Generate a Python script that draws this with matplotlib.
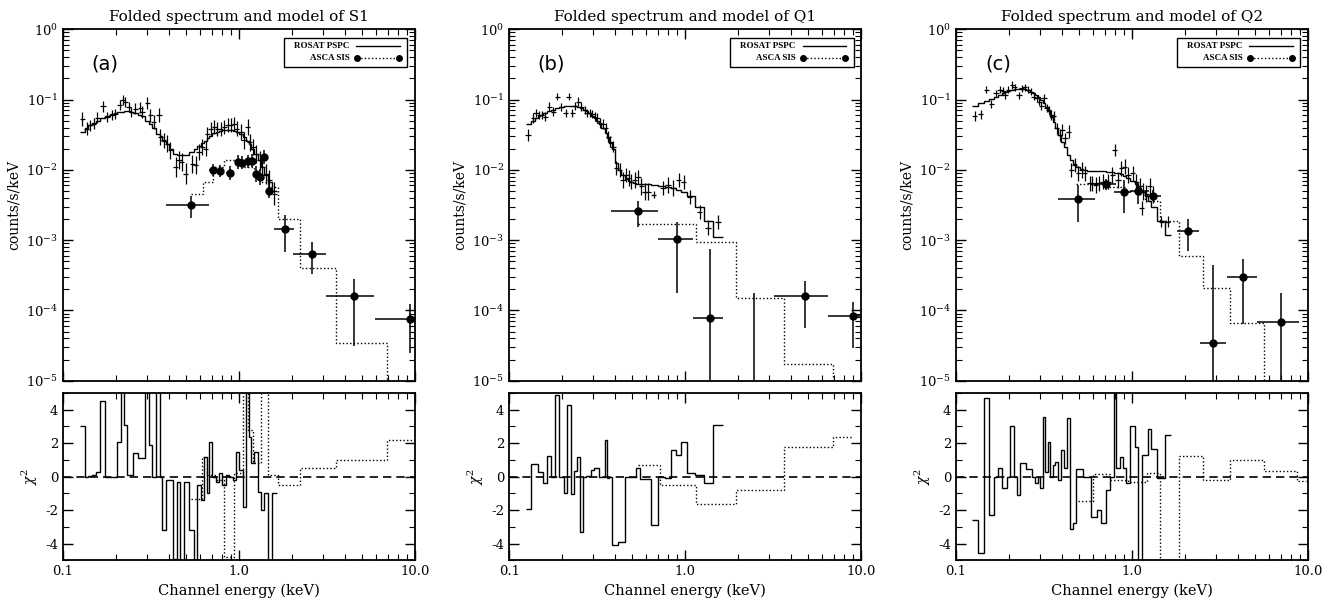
import numpy as np
import matplotlib
matplotlib.use('Agg')
import matplotlib.pyplot as plt
from matplotlib.patches import Rectangle
from matplotlib.ticker import LogLocator, FixedLocator, MultipleLocator, NullFormatter, FuncFormatter

plt.rcParams['font.family'] = 'DejaVu Serif'
plt.rcParams['mathtext.fontset'] = 'dejavuserif'
plt.rcParams['axes.unicode_minus'] = False

# ---------------- S1 (panel a) ----------------
S1_ROS_E = [0.129, 0.136, 0.143, 0.149, 0.157, 0.169, 0.178, 0.190, 0.198, 0.210,
            0.218, 0.226, 0.236, 0.244, 0.258, 0.275, 0.281, 0.301, 0.314, 0.328,
            0.351, 0.358, 0.374, 0.391, 0.408, 0.436, 0.456, 0.472, 0.497, 0.543,
            0.568, 0.593, 0.620, 0.648, 0.662, 0.692, 0.723, 0.755, 0.789, 0.824,
            0.861, 0.899, 0.940, 0.973, 1.03, 1.07, 1.12, 1.15, 1.20, 1.25,
            1.31, 1.36, 1.43, 1.49, 1.59]
S1_ROS_CTS = [0.0534, 0.0384, 0.0429, 0.0453, 0.0552, 0.080, 0.0564, 0.0596, 0.0629, 0.0826,
              0.0973, 0.0922, 0.0783, 0.0664, 0.0741, 0.0766, 0.0664, 0.0892, 0.0596, 0.0478,
              0.0596, 0.0292, 0.0262, 0.0235, 0.0189, 0.0109, 0.0139, 0.0129, 0.0088, 0.0122,
              0.0116, 0.0179, 0.0211, 0.0200, 0.0327, 0.0385, 0.0406, 0.0385, 0.0385, 0.0406,
              0.0429, 0.0429, 0.0453, 0.0385, 0.0345, 0.0262, 0.0406, 0.0248, 0.0211, 0.0169,
              0.0136, 0.0109, 0.0088, 0.0071, 0.0046]
S1_ROS_ERR = [0.10, 0.09, 0.08, 0.08, 0.08, 0.08, 0.07, 0.07, 0.07, 0.07,
              0.07, 0.07, 0.07, 0.07, 0.08, 0.08, 0.08, 0.08, 0.09, 0.10,
              0.10, 0.11, 0.11, 0.12, 0.12, 0.14, 0.13, 0.13, 0.15, 0.13,
              0.13, 0.12, 0.11, 0.11, 0.10, 0.10, 0.10, 0.10, 0.10, 0.10,
              0.10, 0.10, 0.10, 0.11, 0.11, 0.12, 0.12, 0.12, 0.12, 0.13,
              0.13, 0.14, 0.14, 0.15, 0.16]
S1_ROS_MODEL = [0.035, 0.040, 0.043, 0.046, 0.050, 0.055, 0.058, 0.062, 0.064, 0.066,
                0.067, 0.068, 0.068, 0.067, 0.065, 0.060, 0.058, 0.050, 0.045, 0.039,
                0.032, 0.030, 0.026, 0.023, 0.020, 0.017, 0.016, 0.016, 0.016, 0.018,
                0.020, 0.022, 0.024, 0.026, 0.028, 0.030, 0.033, 0.035, 0.036, 0.037,
                0.037, 0.037, 0.036, 0.035, 0.032, 0.029, 0.026, 0.023, 0.020, 0.017,
                0.014, 0.011, 0.0085, 0.0068, 0.0050]
S1_ROS_RES = [3.0, 0.0, 0.05, 0.1, 0.3, 4.5, 0.0, 0.0, 0.0, 2.1,
              5.5, 3.1, 0.1, 0.1, 1.4, 1.1, 1.1, 5.5, 1.9, 0.0,
              5.5, 0.0, -3.2, -0.2, -0.2, -4.9, -0.3, -5.5, -0.3, -3.2,
              -5.5, -0.5, -1.4, 1.2, -1.0, 2.1, 0.0, -0.3, 0.2, -0.5,
              0.1, 0.0, -0.2, 1.5, 0.4, -1.8, 5.5, 2.4, 0.8, 1.5,
              -0.9, -2.0, -1.0, -5.5, -1.0]
S1_ASCA_E = [0.532, 0.708, 0.782, 0.889, 0.983, 1.035, 1.13, 1.19, 1.25, 1.32, 1.38, 1.49, 1.82, 2.60, 4.52, 9.33]
S1_ASCA_ELO = [0.383, 0.672, 0.745, 0.845, 0.955, 1.01, 1.10, 1.16, 1.22, 1.28, 1.35, 1.42, 1.59, 2.04, 3.14, 5.93]
S1_ASCA_EHI = [0.676, 0.745, 0.824, 0.935, 1.01, 1.06, 1.16, 1.22, 1.28, 1.35, 1.42, 1.57, 2.05, 3.14, 5.89, 10.5]
S1_ASCA_CTS = [0.00321, 0.0100, 0.0096, 0.0091, 0.0129, 0.0126, 0.0132, 0.0134, 0.0088, 0.0079, 0.0152, 0.0050,
               0.00145, 0.00064, 0.000159, 7.6e-5]
S1_ASCA_LO = [0.00207, 0.0081, 0.0078, 0.0072, 0.0104, 0.0102, 0.0106, 0.0108, 0.0068, 0.0060, 0.0122, 0.0040,
              0.00067, 0.00033, 3.16e-5, 2.5e-5]
S1_ASCA_HI = [0.0043, 0.0123, 0.0118, 0.0114, 0.016, 0.0156, 0.0164, 0.0166, 0.0114, 0.0104, 0.019, 0.0063,
              0.00224, 0.00093, 0.00028, 1.23e-4]
S1_ASCA_MOD_EDGES = [0.532, 0.621, 0.708, 0.824, 0.940, 1.07, 1.22, 1.34, 1.46, 1.66, 2.21, 3.58, 6.92, 10.0]
S1_ASCA_MOD = [0.0045, 0.0067, 0.0109, 0.0139, 0.0139, 0.011, 0.0088, 0.0067, 0.0057, 0.00197, 0.00040, 3.4e-5, 5e-6]
S1_ASCA_RES_EDGES = [0.532, 0.620, 0.662, 0.739, 0.824, 0.940, 1.05, 1.12, 1.20, 1.34, 1.46, 1.66, 2.21, 3.58, 6.92, 10.0]
S1_ASCA_RES = [-1.3, 1.2, 0.1, -0.2, -4.8, 0.2, 5.5, 2.8, 0.8, 5.5, 0.1, -0.5, 0.5, 1.0, 2.2]

# ---------------- Q1 (panel b) ----------------
Q1_ROS_E = [0.128, 0.137, 0.142, 0.148, 0.153, 0.160, 0.169, 0.178, 0.188, 0.198,
            0.209, 0.218, 0.228, 0.236, 0.247, 0.257, 0.269, 0.277, 0.287, 0.297,
            0.306, 0.317, 0.327, 0.342, 0.354, 0.365, 0.376, 0.389, 0.407, 0.425,
            0.444, 0.464, 0.478, 0.494, 0.516, 0.540, 0.564, 0.589, 0.615,
            0.662, 0.748, 0.799, 0.853, 0.918, 0.980, 1.06, 1.21, 1.35, 1.54]
Q1_ROS_CTS = [0.0314, 0.0542, 0.0638, 0.0604, 0.0604, 0.0572, 0.0794, 0.0674, 0.110, 0.0777,
              0.0638, 0.110, 0.0638, 0.0811, 0.0935, 0.0794, 0.0711, 0.0638, 0.0638, 0.0624,
              0.0572, 0.0542, 0.0459, 0.0449, 0.0390, 0.0297, 0.0252, 0.0214, 0.0105, 0.0100,
              0.0072, 0.0085, 0.0076, 0.0068, 0.0072, 0.0080, 0.0058, 0.0049, 0.0049,
              0.0044, 0.0055, 0.0061, 0.0055, 0.0072, 0.0067, 0.0041, 0.0025, 0.0015, 0.0018]
Q1_ROS_ERR = [0.09, 0.07, 0.06, 0.06, 0.06, 0.06, 0.06, 0.06, 0.05, 0.06,
              0.06, 0.05, 0.06, 0.06, 0.06, 0.06, 0.06, 0.06, 0.06, 0.06,
              0.06, 0.07, 0.07, 0.07, 0.07, 0.08, 0.08, 0.08, 0.10, 0.10,
              0.11, 0.10, 0.11, 0.11, 0.11, 0.10, 0.12, 0.12, 0.12,
              0.05, 0.10, 0.11, 0.11, 0.10, 0.10, 0.10, 0.10, 0.11, 0.10]
Q1_ROS_MODEL = [0.045, 0.050, 0.054, 0.058, 0.061, 0.064, 0.068, 0.072, 0.076, 0.079,
                0.081, 0.082, 0.082, 0.081, 0.079, 0.076, 0.072, 0.068, 0.064, 0.059,
                0.055, 0.050, 0.045, 0.039, 0.033, 0.028, 0.024, 0.020, 0.0125, 0.0100,
                0.0085, 0.0075, 0.0070, 0.0067, 0.0064, 0.0063, 0.0062, 0.0062, 0.0062,
                0.0061, 0.0059, 0.0057, 0.0055, 0.0052, 0.0048, 0.0042, 0.0030, 0.0019, 0.0011]
Q1_ROS_RES = [-1.95, 0.75, 0.75, 0.3, 0.3, -0.35, 1.25, 0.0, 4.9, 0.0,
              -0.95, 4.3, -1.05, 0.35, 1.2, -3.3, 0.0, 0.05, 0.05, 0.4,
              0.5, 0.5, 0.0, 0.0, 2.2, -0.05, 0.0, -4.05, -4.05, -3.9,
              -3.9, 0.0, 0.0, 0.0, 0.0, 0.55, -0.15, -0.15, -0.15,
              -2.9, 0.0, -0.1, 1.6, 1.3, 2.05, 0.25, 0.1, -0.35, 3.1]
Q1_ASCA_E = [0.540, 0.903, 1.38, 2.45, 4.83, 8.96]
Q1_ASCA_ELO = [0.381, 0.701, 1.107, 2.45, 3.22, 6.47]
Q1_ASCA_EHI = [0.701, 1.107, 1.65, 2.45, 6.47, 10.5]
Q1_ASCA_CTS = [0.0026, 0.00103, 7.7e-5, 5e-6, 1.6e-4, 8.2e-5]
Q1_ASCA_LO = [0.00152, 0.000176, 1e-6, 1e-6, 5.6e-5, 2.9e-5]
Q1_ASCA_HI = [0.00365, 0.00183, 0.00074, 0.000176, 2.65e-4, 1.33e-4]
Q1_ASCA_MOD_EDGES = [0.540, 1.147, 1.94, 3.67, 6.90, 10.0]
Q1_ASCA_MOD = [0.0017, 0.00093, 0.000149, 1.73e-5, 5e-6]
Q1_ASCA_RES_EDGES = [0.540, 0.716, 1.147, 1.94, 3.67, 6.90, 9.0]
Q1_ASCA_RES = [0.7, -0.5, -1.6, -0.8, 1.8, 2.35]

# ---------------- Q2 (panel c) ----------------
Q2_ROS_E = [0.128, 0.138, 0.149, 0.159, 0.169, 0.178, 0.186, 0.190, 0.198, 0.209,
            0.216, 0.228, 0.236, 0.246, 0.257, 0.267, 0.277, 0.287, 0.297, 0.306,
            0.317, 0.327, 0.337, 0.349, 0.360, 0.373, 0.389, 0.403, 0.416, 0.438,
            0.453, 0.473, 0.495, 0.517, 0.540, 0.576, 0.597, 0.623, 0.651, 0.686,
            0.732, 0.775, 0.799, 0.834, 0.871, 0.910, 0.951, 1.01, 1.06, 1.11,
            1.135, 1.16, 1.21, 1.26, 1.32, 1.47, 1.60]
Q2_ROS_CTS = [0.0585, 0.0617, 0.137, 0.0866, 0.123, 0.137, 0.134, 0.116, 0.137, 0.161,
              0.150, 0.116, 0.145, 0.150, 0.137, 0.130, 0.110, 0.104, 0.0935, 0.0811,
              0.104, 0.0752, 0.0711, 0.0604, 0.0585, 0.0390, 0.0314, 0.0370, 0.0281, 0.0350,
              0.0100, 0.0117, 0.0089, 0.0100, 0.0089, 0.0064, 0.0064, 0.0061, 0.0064, 0.0068,
              0.0068, 0.0085, 0.0192, 0.0072, 0.0105, 0.0111, 0.0085, 0.0089, 0.0068, 0.0058,
              0.0029, 0.0049, 0.0046, 0.0058, 0.0044, 0.00183, 0.00183]
Q2_ROS_ERR = [0.07, 0.06, 0.05, 0.06, 0.05, 0.05, 0.05, 0.05, 0.05, 0.05,
              0.05, 0.05, 0.05, 0.05, 0.05, 0.05, 0.05, 0.05, 0.05, 0.06,
              0.06, 0.06, 0.06, 0.07, 0.07, 0.08, 0.08, 0.08, 0.08, 0.09,
              0.10, 0.10, 0.11, 0.11, 0.11, 0.11, 0.11, 0.11, 0.11, 0.11,
              0.11, 0.11, 0.08, 0.11, 0.11, 0.11, 0.11, 0.11, 0.11, 0.12,
              0.10, 0.12, 0.12, 0.12, 0.12, 0.08, 0.08]
Q2_ROS_MODEL = [0.080, 0.088, 0.095, 0.102, 0.110, 0.117, 0.123, 0.127, 0.132, 0.137,
                0.139, 0.140, 0.140, 0.139, 0.135, 0.130, 0.124, 0.116, 0.107, 0.098,
                0.088, 0.078, 0.068, 0.057, 0.048, 0.039, 0.031, 0.025, 0.021, 0.0165,
                0.0140, 0.0120, 0.0108, 0.0102, 0.0099, 0.0097, 0.0096, 0.0096, 0.0095, 0.0095,
                0.0094, 0.0092, 0.0091, 0.0089, 0.0086, 0.0082, 0.0077, 0.0070, 0.0063, 0.0056,
                0.0052, 0.0048, 0.0042, 0.0036, 0.0030, 0.0019, 0.0012]
Q2_ROS_RES = [-2.6, -4.55, 4.7, -2.3, 0.0, 0.5, -0.7, -0.7, 0.0, 3.0,
              0.0, -1.1, 0.8, 0.8, 0.45, 0.45, 0.0, -0.4, 0.0, -0.65,
              3.55, 0.3, 2.1, 0.0, 0.7, 0.9, -0.2, 1.6, 0.5, 3.5,
              -3.1, -2.75, 0.45, 0.45, 0.0, 0.0, -2.4, -2.4, -2.0, -2.75,
              -0.8, 0.0, 5.5, 0.5, 1.2, 0.5, -0.4, 3.05, 1.75, -5.5,
              -5.5, 1.3, 1.3, 2.85, 1.65, -0.05, 2.5]
Q2_ASCA_E = [0.494, 0.716, 0.901, 1.09, 1.32, 2.08, 2.91, 4.28, 7.05]
Q2_ASCA_ELO = [0.381, 0.601, 0.795, 0.97, 1.22, 1.80, 2.43, 3.47, 5.13]
Q2_ASCA_EHI = [0.615, 0.816, 0.992, 1.25, 1.47, 2.41, 3.44, 5.13, 8.96]
Q2_ASCA_CTS = [0.00386, 0.0062, 0.0048, 0.0050, 0.0043, 0.00135, 3.4e-5, 0.000296, 6.9e-5]
Q2_ASCA_LO = [0.00183, 0.0052, 0.0024, 0.0033, 0.0036, 0.00069, 1e-6, 6.4e-5, 1e-6]
Q2_ASCA_HI = [0.0061, 0.0074, 0.0072, 0.0068, 0.0052, 0.0020, 0.00044, 0.000535, 0.000176]
Q2_ASCA_MOD_EDGES = [0.484, 0.702, 0.931, 1.18, 1.44, 1.85, 2.54, 3.62, 5.67, 10.0]
Q2_ASCA_MOD = [0.0062, 0.0057, 0.0050, 0.0036, 0.00188, 0.00060, 0.000205, 6.6e-5, 5e-6]
Q2_ASCA_RES_EDGES = [0.494, 0.601, 0.748, 0.951, 1.22, 1.45, 1.85, 2.53, 3.62, 5.67, 8.65, 9.77]
Q2_ASCA_RES = [-1.45, 0.15, -0.2, -0.3, 0.2, -5.5, 1.25, -0.2, 1.0, 0.35, -0.25]

TITLES = ['Folded spectrum and model of S1', 'Folded spectrum and model of Q1',
          'Folded spectrum and model of Q2']
LETTERS = ['(a)', '(b)', '(c)']

ROS_XERR_DEX = 0.015
DOTTED = (0, (1, 1.6))

panels = [
    dict(e=S1_ROS_E, c=S1_ROS_CTS, d=S1_ROS_ERR, m=S1_ROS_MODEL, r=S1_ROS_RES,
         ae=S1_ASCA_E, aelo=S1_ASCA_ELO, aehi=S1_ASCA_EHI, ac=S1_ASCA_CTS, alo=S1_ASCA_LO, ahi=S1_ASCA_HI,
         me=S1_ASCA_MOD_EDGES, mv=S1_ASCA_MOD, re=S1_ASCA_RES_EDGES, rv=S1_ASCA_RES),
    dict(e=Q1_ROS_E, c=Q1_ROS_CTS, d=Q1_ROS_ERR, m=Q1_ROS_MODEL, r=Q1_ROS_RES,
         ae=Q1_ASCA_E, aelo=Q1_ASCA_ELO, aehi=Q1_ASCA_EHI, ac=Q1_ASCA_CTS, alo=Q1_ASCA_LO, ahi=Q1_ASCA_HI,
         me=Q1_ASCA_MOD_EDGES, mv=Q1_ASCA_MOD, re=Q1_ASCA_RES_EDGES, rv=Q1_ASCA_RES),
    dict(e=Q2_ROS_E, c=Q2_ROS_CTS, d=Q2_ROS_ERR, m=Q2_ROS_MODEL, r=Q2_ROS_RES,
         ae=Q2_ASCA_E, aelo=Q2_ASCA_ELO, aehi=Q2_ASCA_EHI, ac=Q2_ASCA_CTS, alo=Q2_ASCA_LO, ahi=Q2_ASCA_HI,
         me=Q2_ASCA_MOD_EDGES, mv=Q2_ASCA_MOD, re=Q2_ASCA_RES_EDGES, rv=Q2_ASCA_RES),
]


def geo_edges(c):
    # bin edges half way (in log) between channel centres
    c = np.asarray(c, dtype=float)
    mid = np.sqrt(c[:-1] * c[1:])
    return np.concatenate([[c[0] ** 2 / mid[0]], mid, [c[-1] ** 2 / mid[-1]]])


def style_axis(a):
    a.set_xscale('log')
    a.set_xlim(0.1, 10)
    a.xaxis.set_minor_locator(LogLocator(base=10, subs=np.arange(2, 10), numticks=20))
    a.xaxis.set_minor_formatter(NullFormatter())
    a.tick_params(which='both', direction='in', top=True, right=True, labelsize=9.5)
    a.tick_params(which='major', length=7, width=1)
    a.tick_params(which='minor', length=4, width=0.8)
    for s in a.spines.values():
        s.set_linewidth(1.3)


def draw_key(ax):
    ax.add_patch(Rectangle((0.627, 0.893), 0.352, 0.082, transform=ax.transAxes,
                           fill=False, lw=1, color='k', zorder=5))
    kw = dict(transform=ax.transAxes, ha='right', va='center', fontsize=6.5,
              family='Liberation Serif', fontweight='bold')
    ax.text(0.814, 0.951, 'ROSAT PSPC', **kw)
    ax.text(0.814, 0.919, 'ASCA SIS', **kw)
    ax.plot([0.834, 0.957], [0.951, 0.951], transform=ax.transAxes, color='k', lw=1)
    ax.plot([0.836, 0.955], [0.919, 0.919], transform=ax.transAxes, color='k', lw=1,
            ls=DOTTED, marker='o', ms=4)


fig = plt.figure(figsize=(13.3, 6.01), dpi=100)
lefts = [0.0474, 0.3829, 0.7188]
width = 0.2645

for i, p in enumerate(panels):
    ax = fig.add_axes([lefts[i], 0.3666, width, 0.5847])
    axr = fig.add_axes([lefts[i], 0.0674, width, 0.2787])
    style_axis(ax)
    style_axis(axr)

    e = np.array(p['e'])
    c = np.array(p['c'])
    d = np.array(p['d'])
    ax.errorbar(e, c, yerr=[c - c * 10 ** -d, c * 10 ** d - c],
                xerr=[e - e * 10 ** -ROS_XERR_DEX, e * 10 ** ROS_XERR_DEX - e],
                fmt='none', ecolor='k', elinewidth=0.9, capsize=0)
    ax.stairs(p['m'], geo_edges(e), baseline=None, color='k', lw=1)
    ax.stairs(p['mv'], p['me'], baseline=None, color='k', lw=1, ls=DOTTED)

    ae = np.array(p['ae'])
    ac = np.array(p['ac'])
    ax.errorbar(ae, ac, xerr=[ae - np.array(p['aelo']), np.array(p['aehi']) - ae],
                yerr=[ac - np.array(p['alo']), np.array(p['ahi']) - ac],
                fmt='o', color='k', ms=5, elinewidth=1.1, capsize=0)

    ax.set_yscale('log')
    ax.set_ylim(1e-5, 1)
    ax.yaxis.set_minor_locator(LogLocator(base=10, subs=np.arange(2, 10), numticks=20))
    ax.yaxis.set_minor_formatter(NullFormatter())
    ax.xaxis.set_major_formatter(NullFormatter())
    ax.set_ylabel('counts/s/keV', fontsize=10)
    ax.set_title(TITLES[i], fontsize=11, pad=6)
    ax.text(0.12, 0.90, LETTERS[i], transform=ax.transAxes, fontsize=14,
            family='DejaVu Sans', ha='center', va='center')
    draw_key(ax)

    axr.stairs(p['r'], geo_edges(e), baseline=None, color='k', lw=1)
    axr.stairs(p['rv'], p['re'], baseline=None, color='k', lw=1, ls=DOTTED)
    axr.axhline(0, color='k', ls=(0, (5, 3)), lw=1.2)
    axr.set_ylim(-5, 5)
    axr.yaxis.set_major_locator(FixedLocator([-4, -2, 0, 2, 4]))
    axr.yaxis.set_minor_locator(MultipleLocator(1))
    axr.xaxis.set_major_formatter(FuncFormatter(lambda x, _: f'{x:.1f}'))
    axr.set_ylabel(r'$\chi^2$', fontsize=10)
    axr.set_xlabel('Channel energy (keV)', fontsize=10.5)

fig.savefig('out.png', dpi=100)
